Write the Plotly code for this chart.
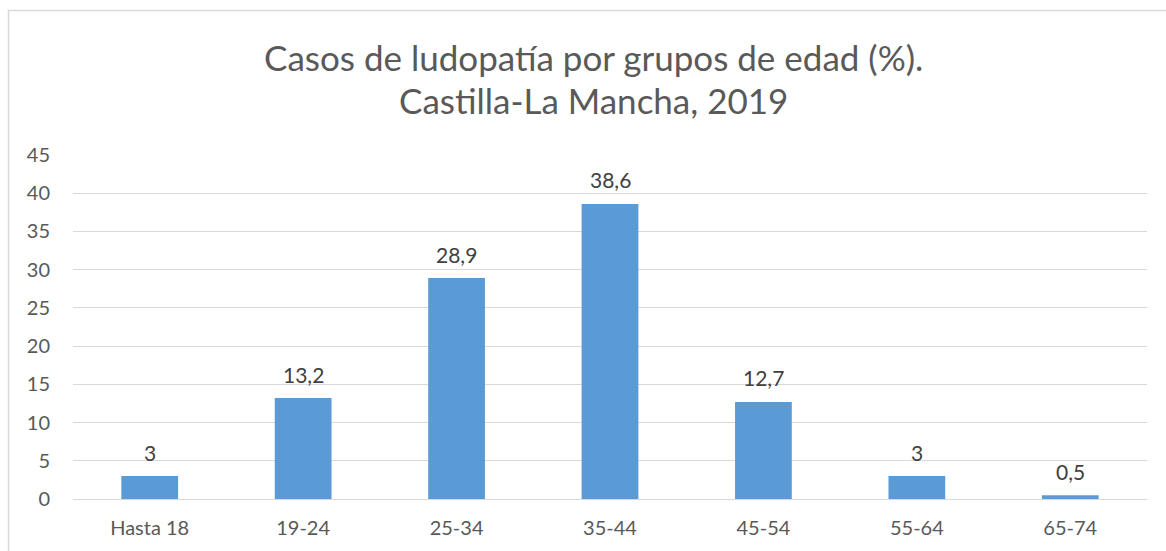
import plotly.graph_objects as go

categories = ["Hasta 18", "19-24", "25-34", "35-44", "45-54", "55-64", "65-74"]
values = [3, 13.2, 28.9, 38.6, 12.7, 3, 0.5]
labels = ["3", "13,2", "28,9", "38,6", "12,7", "3", "0,5"]
yticks = [0, 5, 10, 15, 20, 25, 30, 35, 40, 45]

W, H = 1166, 551
L, R, T, B = 73, 19, 155, 52
pw, ph = W - L - R, H - T - B
FONT = "Lato, Carlito, sans-serif"

def px2x(px):
    return (px - L) / pw

def py2y(py):
    return (H - B - py) / ph

fig = go.Figure(go.Bar(
    x=categories, y=values,
    marker=dict(color="#5B9BD5", line=dict(width=0)),
    width=0.37, hoverinfo="x+y",
))

label_annotations = [
    dict(x=c, y=v, text=t, xref="x", yref="y", showarrow=False,
         xanchor="center", yanchor="middle", yshift=24,
         font=dict(family=FONT, size=21, color="#404040"))
    for c, v, t in zip(categories, values, labels)
]

title_annotations = [
    dict(text="Casos de ludopatía por grupos de edad (%).", xref="paper", yref="paper",
         x=px2x(593), y=py2y(57), xanchor="center", yanchor="middle", showarrow=False,
         font=dict(family=FONT, size=35, color="#595959")),
    dict(text="Castilla-La Mancha, 2019", xref="paper", yref="paper",
         x=px2x(593), y=py2y(100), xanchor="center", yanchor="middle", showarrow=False,
         font=dict(family=FONT, size=35, color="#595959")),
]

fig.update_layout(
    width=W, height=H,
    margin=dict(l=L, r=R, t=T, b=B),
    paper_bgcolor="white", plot_bgcolor="white",
    showlegend=False,
    xaxis=dict(
        showgrid=False, showline=True, linecolor="#D9D9D9", linewidth=1,
        ticks="", tickfont=dict(family=FONT, size=20, color="#595959"),
        ticklabelstandoff=11,
    ),
    yaxis=dict(
        range=[0, 45], tickvals=yticks, showgrid=True, gridcolor="#D9D9D9", gridwidth=1,
        zeroline=False, showline=False, ticks="",
        tickfont=dict(family=FONT, size=20, color="#595959"),
        ticklabelstandoff=22,
    ),
    annotations=title_annotations + label_annotations,
    shapes=[dict(
        type="rect", xref="paper", yref="paper",
        x0=px2x(8.5), x1=px2x(1175), y0=py2y(570), y1=py2y(10.5),
        line=dict(color="#D9D9D9", width=1.5), fillcolor="rgba(0,0,0,0)", layer="below",
    )],
)

fig.write_html("out.html", config={"displayModeBar": False},
               post_script="document.body.style.margin='0px';document.body.style.overflow='hidden';")
